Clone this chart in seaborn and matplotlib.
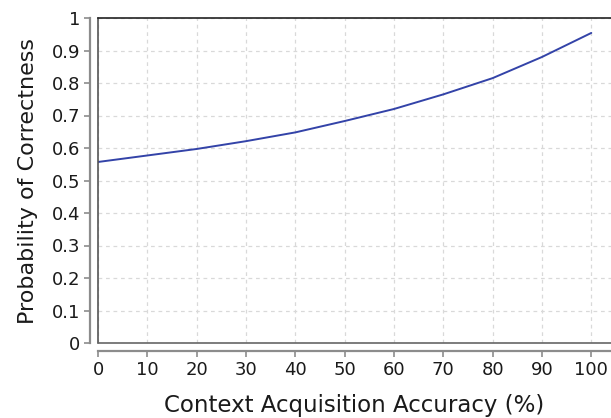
import seaborn as sns
import matplotlib.pyplot as plt
import pandas as pd

# values
accuracy = [0, 10, 20, 30, 40, 50, 60, 70, 80, 90, 100]
probability = [0.557, 0.577, 0.597, 0.621, 0.648, 0.683, 0.720, 0.765, 0.815, 0.880, 0.954]
y_ticks = [0, 0.1, 0.2, 0.3, 0.4, 0.5, 0.6, 0.7, 0.8, 0.9, 1]
y_tick_labels = ["0", "0.1", "0.2", "0.3", "0.4", "0.5", "0.6", "0.7", "0.8", "0.9", "1"]
x_ticks = [0, 10, 20, 30, 40, 50, 60, 70, 80, 90, 100]

df = pd.DataFrame({"accuracy": accuracy, "probability": probability})

sns.set_theme(style="white")
plt.rcParams["font.family"] = ["DejaVu Sans"]

fig = plt.figure(figsize=(6.11, 4.18), dpi=100)
ax = fig.add_axes([98 / 611, 1 - 343 / 418, 1 - 98 / 611, (343 - 18) / 418])

sns.lineplot(data=df, x="accuracy", y="probability", ax=ax, color="#3343a8", linewidth=1.4)

ax.set_xlim(0, 104)
ax.set_ylim(0, 1)
ax.set_xticks(x_ticks)
ax.set_yticks(y_ticks)
ax.set_yticklabels(y_tick_labels)

# grid
ax.grid(True, color="#d9d9d9", linestyle=(0, (3, 3)), linewidth=0.9)
ax.set_axisbelow(True)

# offset axis lines with ticks
for side in ["left", "bottom"]:
    ax.spines[side].set_position(("outward", 6))
    ax.spines[side].set_color("#8c8c8c")
    ax.spines[side].set_linewidth(1.6)
ax.spines["right"].set_visible(False)
ax.spines["top"].set_color("#222222")
ax.spines["top"].set_linewidth(1.2)
ax.tick_params(axis="both", which="both", length=4, width=1.2, color="#8c8c8c",
               labelsize=13, labelcolor="#1a1a1a", left=True, bottom=True, pad=3)

# plot border on left and bottom
ax.plot([0, 0], [0, 1], transform=ax.transAxes, color="#555555", linewidth=1.2, clip_on=False)
ax.plot([0, 1], [0, 0], transform=ax.transAxes, color="#666666", linewidth=1.2, clip_on=False)

ax.set_xlabel("Context Acquisition Accuracy (%)", fontsize=16.5, color="#1a1a1a", labelpad=11)
ax.set_ylabel("Probability of Correctness", fontsize=16, color="#1a1a1a", labelpad=10)

fig.savefig("out.png", dpi=100)
